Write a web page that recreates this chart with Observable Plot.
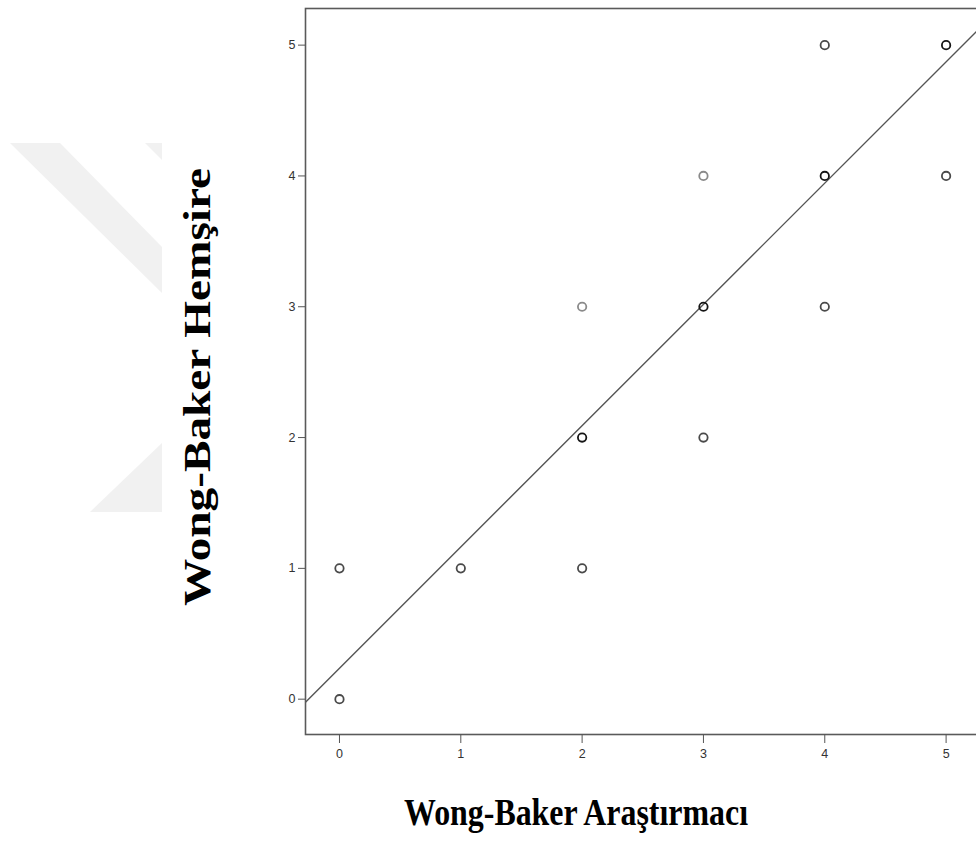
<!DOCTYPE html>
<html><head><meta charset="utf-8">
<script src="https://cdn.jsdelivr.net/npm/d3@7"></script>
<script src="https://cdn.jsdelivr.net/npm/@observablehq/plot@0.6"></script>
<style>
html,body{margin:0;padding:0;background:#fff;overflow:hidden;width:976px;height:844px}
#wm{position:absolute;left:0;top:0}
#chart{position:absolute;left:0;top:0;width:984px}
#chart svg{max-width:none !important}
</style></head><body>
<svg id="wm" width="976" height="844">
  <g fill="#f1f1f1">
    <polygon points="10,143 60,143 162,247 162,293"/>
    <polygon points="145,143 162,143 162,160"/>
    <polygon points="162,443 90,512 162,512"/>
  </g>
</svg>
<div id="chart"></div>
<script>
// Data (Wong-Baker scores)
const araştırmacı = [0, 0, 1, 2, 2, 2, 3, 3, 3, 4, 4, 4, 5, 5];
const hemşire     = [0, 1, 1, 1, 2, 3, 2, 3, 4, 3, 4, 5, 4, 5];
const overlap     = [2, 2, 2, 2, 3, 1, 2, 3, 1, 2, 3, 2, 2, 3];
const tickValues  = [0, 1, 2, 3, 4, 5];
const fitIntercept = 0.237;
const fitSlope = 0.927;
const xDomain = [-0.28, 5.30];
const yDomain = [-0.27, 5.28];
const xTitle = "Wong-Baker Araştırmacı";
const yTitle = "Wong-Baker Hemşire";

const rows = araştırmacı.map((x, i) => ({x, y: hemşire[i], n: overlap[i]}));
const fitRows = xDomain.map(x => ({x, y: fitIntercept + fitSlope * x}));

const plot = Plot.plot({
  width: 984, height: 844,
  marginLeft: 305, marginRight: 2, marginTop: 8, marginBottom: 110,
  style: {fontFamily: "'Liberation Sans', Arial, sans-serif", fontSize: "12.5px", color: "#333", background: "transparent", maxWidth: "none"},
  x: {domain: xDomain},
  y: {domain: yDomain},
  color: {type: "ordinal", domain: [1, 2, 3], range: ["#8a8a8a", "#4a4a4a", "#151515"]},
  marks: [
    Plot.line(fitRows, {x: "x", y: "y", stroke: "#555", strokeWidth: 1.4, clip: true}),
    Plot.dot(rows, {x: "x", y: "y", r: 4.2, stroke: "n", strokeWidth: 1.8, fill: "none"}),
    Plot.frame({stroke: "#5a5a5a", strokeWidth: 1.6}),
    Plot.axisX({ticks: tickValues, tickSize: 9, tickPadding: 6, tickFormat: d3.format("d"), label: null, stroke: "#555", fill: "#333"}),
    Plot.axisY({ticks: tickValues, tickSize: 7, tickPadding: 3, tickFormat: d3.format("d"), label: null, stroke: "#555", fill: "#333"})
  ]
});
plot.style.maxWidth = "none";
document.getElementById("chart").appendChild(plot);

const svg = d3.select(plot);
svg.append("text")
  .attr("x", 576).attr("y", 825)
  .attr("text-anchor", "middle")
  .attr("textLength", 344).attr("lengthAdjust", "spacingAndGlyphs")
  .style("font-family", "'Liberation Serif', 'Times New Roman', serif")
  .style("font-weight", "bold").style("font-size", "37px").style("fill", "#000")
  .text(xTitle);
svg.append("text")
  .attr("transform", "translate(210,387) rotate(-90)")
  .attr("text-anchor", "middle")
  .attr("textLength", 438).attr("lengthAdjust", "spacingAndGlyphs")
  .style("font-family", "'Liberation Serif', 'Times New Roman', serif")
  .style("font-weight", "bold").style("font-size", "37px").style("fill", "#000")
  .text(yTitle);
</script>
</body></html>
